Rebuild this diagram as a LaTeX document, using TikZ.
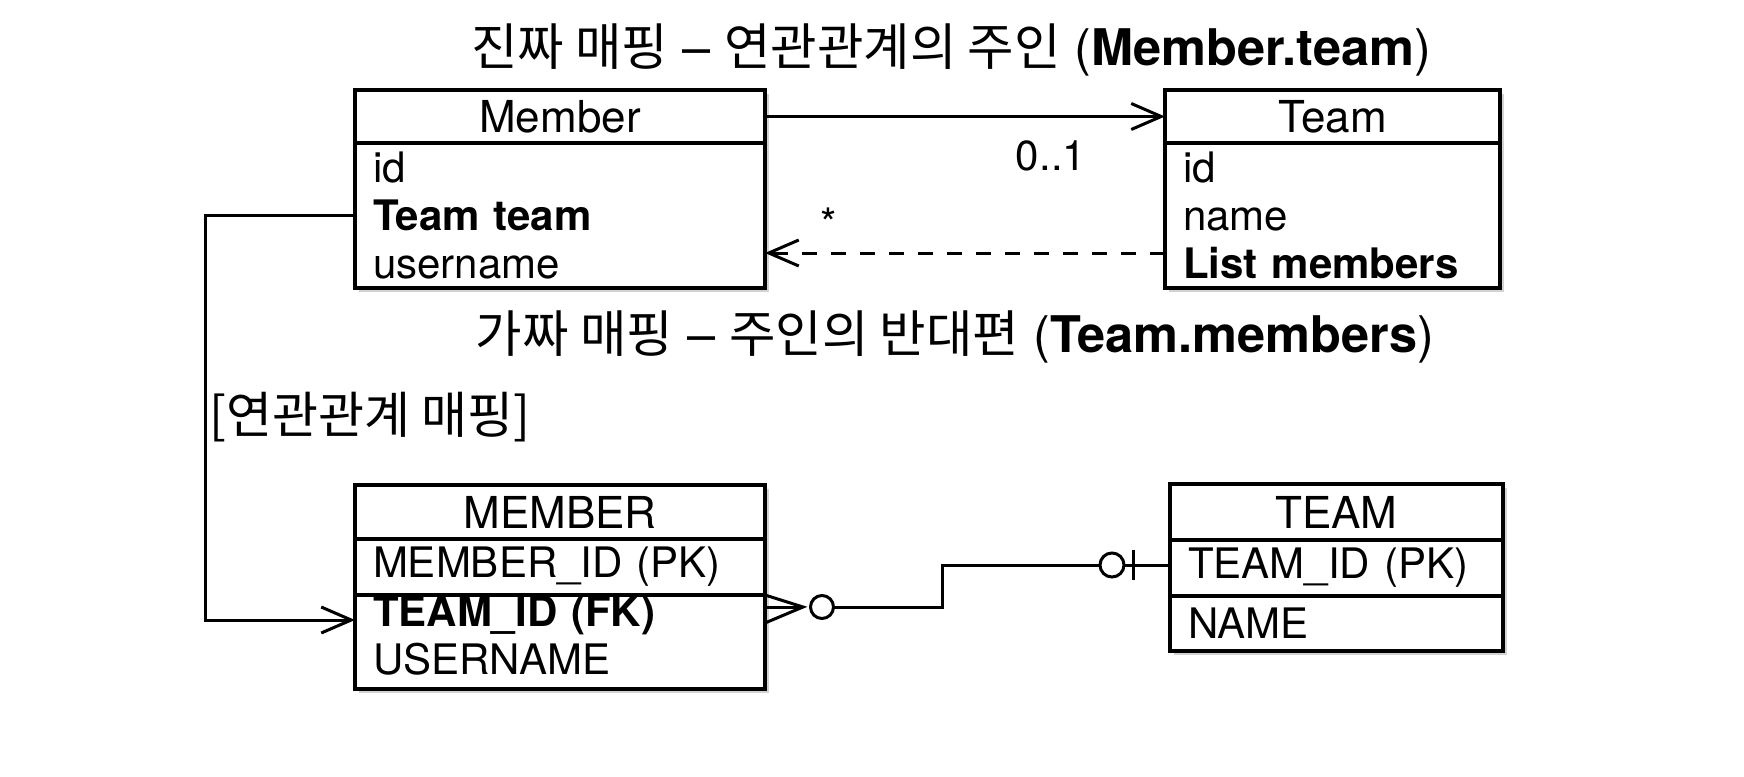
\documentclass[tikz,border=0pt]{standalone}
\usepackage{fontspec}
\setmainfont{TeX Gyre Heros}
\newfontfamily\kr{Noto Sans CJK KR}
\usetikzlibrary{arrows.meta,positioning,shadows}

\begin{document}
\begin{tikzpicture}[x=1pt,y=-1pt,>={Straight Barb[length=30pt,width=26pt]},
	every node/.style={font=\fontsize{42}{48}\selectfont},
	bang/.style={draw,line width=3.2pt,fill=white,outer sep=0pt,inner xsep=18pt,inner ysep=0pt,
		drop shadow={shadow xshift=4pt,shadow yshift=-4pt,opacity=0.35}},
	ten/.style={bang,minimum width=#1,minimum height=54pt,font=\fontsize{44}{50}\selectfont},
	than/.style 2 args={bang,text width=#1,minimum height=#2,align=left},
	noi/.style={line width=3pt},
	tieude/.style={font=\fontsize{50.5}{56}\selectfont}]
	\fill[white] (0,0) rectangle (1744,776);
	\useasboundingbox (0,0) rectangle (1744,776);
	%Tieu de
	\node[tieude] (thuc) at (951,50) {{\kr 진짜 매핑} -- {\kr 연관관계의 주인} (\textbf{Member.team})};
	\node[tieude] (gia) at (955,337) {{\kr 가짜 매핑} -- {\kr 주인의 반대편} (\textbf{Team.members})};
	%Lop Member
	\node[ten=410pt,minimum height=53pt] (memberH) at (560,116.5) {Member};
	\node[than={374pt}{145pt},below=0pt of memberH] (memberB) {id\\\textbf{Team team}\\username};
	%Lop Team
	\node[ten=335pt,minimum height=53pt] (teamH) at (1332.5,116.5) {Team};
	\node[than={299pt}{145pt},below=0pt of teamH] (teamB) {id\\name\\\textbf{List members}};
	%Bang MEMBER
	\node[ten=410pt] (mH) at (560,512) {MEMBER};
	\node[than={374pt}{56pt},below=0pt of mH] (mR1) {MEMBER\_ID (PK)};
	\node[than={374pt}{94pt},below=0pt of mR1] (mR2) {\textbf{TEAM\_ID (FK)}\\USERNAME\strut};
	%Bang TEAM
	\node[ten=333pt,minimum height=56pt] (tH) at (1336.5,512) {TEAM};
	\node[than={297pt}{56pt},below=0pt of tH] (tR1) {TEAM\_ID (PK)};
	\node[than={297pt}{55pt},below=0pt of tR1] (tR2) {NAME};
	%Mui ten Member - Team
	\draw[noi,->] (memberH) -- (teamH);
	\draw[noi,->,dash pattern=on 15pt off 14pt] ([yshift=-37.5pt]teamB.west) -- ([yshift=-37.5pt]memberB.east);
	\node (motmot) at (1051,156) {0..1};
	\node (nhieu) at (829,223) {*};
	%Anh xa
	\draw[noi,->] (memberB.west) -- ++(-150,0) |- ([yshift=22pt]mR2.west);
	\node[anchor=west,font=\fontsize{50}{56}\selectfont] (anhxa) at (206,417) {{\kr [연관관계 매핑]}};
	%Chan ga
	\coordinate (chan) at ([yshift=35pt]mR2.east);
	\coordinate (dau) at ([yshift=3pt]tR1.west);
	\draw[noi] ([yshift=12pt]chan) -- ++(38,12) -- ([yshift=-16pt]chan);
	\draw[noi] (chan) -- ++(38,0);
	\draw[noi] ([xshift=57pt]chan) circle[radius=11.5pt];
	\draw[noi] ([xshift=68.5pt]chan) -- ([xshift=177pt]chan) |- ([xshift=-70pt]dau);
	\draw[noi] ([xshift=-58pt]dau) circle[radius=12pt];
	\draw[noi] ([xshift=-46pt]dau) -- (dau);
	\draw[noi] ([xshift=-37pt,yshift=15pt]dau) -- ([xshift=-37pt,yshift=-15pt]dau);
\end{tikzpicture}
\end{document}
